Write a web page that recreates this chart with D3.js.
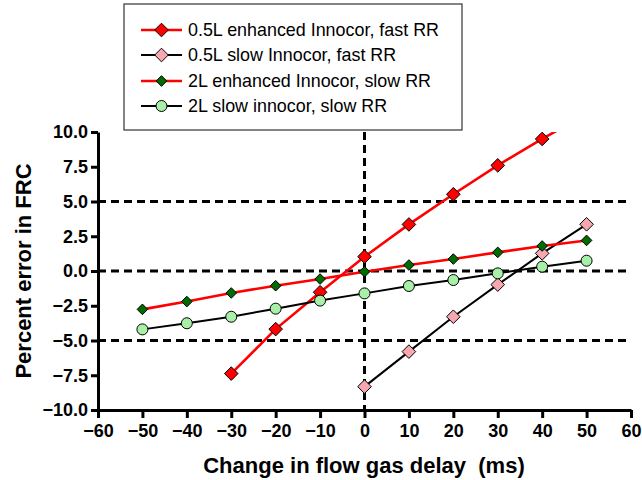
<!DOCTYPE html>
<html><head><meta charset="utf-8">
<script src="https://cdn.jsdelivr.net/npm/d3@7/dist/d3.min.js"></script>
<style>body{margin:0;background:#fff}svg{display:block}text{font-family:"Liberation Sans",Arial,sans-serif}</style>
</head><body><svg id="c" width="642" height="480"></svg>
<script>
const xValues = [-50,-40,-30,-20,-10,0,10,20,30,40,50];
const s1X = [-30,-20,-10,0,10,20,30,40,50];
const s1Y = [-7.38,-4.18,-1.53,1.03,3.35,5.52,7.6,9.5,11.3];
const s2X = [0,10,20,30,40,50];
const s2Y = [-8.32,-5.8,-3.29,-0.98,1.27,3.36];
const s3Y = [-2.76,-2.2,-1.58,-1.06,-0.58,-0.05,0.43,0.86,1.34,1.8,2.2];
const s4Y = [-4.2,-3.76,-3.29,-2.71,-2.13,-1.61,-1.08,-0.65,-0.17,0.31,0.74];
const seriesNames = ["0.5L enhanced Innocor, fast RR","0.5L slow Innocor, fast RR","2L enhanced Innocor, slow RR","2L slow innocor, slow RR"];
const xTicks = [-60,-50,-40,-30,-20,-10,0,10,20,30,40,50,60];
const yTicks = [-10,-7.5,-5,-2.5,0,2.5,5,7.5,10];
const refY = [-5,0,5];
const refX = [0];

const series = [
  {name:seriesNames[0], x:s1X, y:s1Y, line:"#ff0000", lw:2.6, shape:"diamond", fill:"#ff0000", size:6.8},
  {name:seriesNames[1], x:s2X, y:s2Y, line:"#000000", lw:2, shape:"diamond", fill:"#f7a7b0", size:6.8},
  {name:seriesNames[2], x:xValues, y:s3Y, line:"#ff0000", lw:2.6, shape:"diamond", fill:"#006b00", size:5.3},
  {name:seriesNames[3], x:xValues, y:s4Y, line:"#000000", lw:2, shape:"circle", fill:"#a8f0a8", size:5.5}
];

const svg = d3.select("#c");
const L=98, R=631, T=132, B=410;
const x = d3.scaleLinear().domain([-60,60]).range([L,R]);
const y = d3.scaleLinear().domain([-10,10]).range([B,T]);

svg.append("defs").append("clipPath").attr("id","clip").append("rect")
  .attr("x",L).attr("y",T).attr("width",R-L).attr("height",B-T);

const g0 = svg.append("g");
refY.forEach(v=>g0.append("line").attr("x1",L).attr("x2",R).attr("y1",y(v)).attr("y2",y(v))
  .attr("stroke","#000").attr("stroke-width",3).attr("stroke-dasharray","8,5"));
refX.forEach(v=>g0.append("line").attr("x1",x(v)).attr("x2",x(v)).attr("y1",T).attr("y2",B)
  .attr("stroke","#000").attr("stroke-width",3).attr("stroke-dasharray","8,5"));

function marker(sel, s, cx, cy){
  if(s.shape==="diamond"){
    const r=s.size;
    sel.append("path").attr("d",`M${cx},${cy-r}L${cx+r},${cy}L${cx},${cy+r}L${cx-r},${cy}Z`)
      .attr("fill",s.fill).attr("stroke","#000").attr("stroke-width",1);
  } else {
    sel.append("circle").attr("cx",cx).attr("cy",cy).attr("r",s.size)
      .attr("fill",s.fill).attr("stroke","#000").attr("stroke-width",1);
  }
}

const plot = svg.append("g").attr("clip-path","url(#clip)");
series.forEach(s=>{
  const pts = s.x.map((xv,i)=>[xv,s.y[i]]);
  plot.append("path").datum(pts)
    .attr("d",d3.line().x(d=>x(d[0])).y(d=>y(d[1])))
    .attr("fill","none").attr("stroke",s.line).attr("stroke-width",s.lw);
  pts.forEach(p=>{ if(p[1]<=10.2) marker(plot, s, x(p[0]), y(p[1])); });
});

const xa = svg.append("g").attr("transform",`translate(0,${B})`)
  .call(d3.axisBottom(x).tickValues(xTicks).tickSize(8).tickSizeOuter(0).tickPadding(6).tickFormat(d3.format("d")));
const ya = svg.append("g").attr("transform",`translate(${L},0)`)
  .call(d3.axisLeft(y).tickValues(yTicks).tickSize(7).tickSizeOuter(0).tickPadding(3).tickFormat(d3.format(".1f")));
[xa,ya].forEach(a=>{
  a.select(".domain").attr("stroke","#000").attr("stroke-width",3);
  a.selectAll(".tick line").attr("stroke","#000").attr("stroke-width",3);
  a.selectAll(".tick text").attr("fill","#000").style("font-size","18px").style("font-weight","bold")
    .style("font-family","'Liberation Sans',Arial,sans-serif");
});

svg.append("text").attr("x",364).attr("y",473).attr("text-anchor","middle")
  .style("font-size","22px").style("font-weight","bold").style("white-space","pre")
  .text("Change in flow gas delay  (ms)");
svg.append("text").attr("transform","translate(31,271) rotate(-90)").attr("text-anchor","middle")
  .style("font-size","22px").style("font-weight","bold")
  .text("Percent error in FRC");

const lg = svg.append("g");
lg.append("rect").attr("x",124).attr("y",4).attr("width",338).attr("height",126)
  .attr("fill","#fff").attr("stroke","#333").attr("stroke-width",1.2);
const rowsY=[30,55,81,106];
series.forEach((s,i)=>{
  const cy=rowsY[i];
  lg.append("line").attr("x1",141).attr("x2",182).attr("y1",cy).attr("y2",cy)
    .attr("stroke",s.line).attr("stroke-width",s.lw);
  marker(lg, s, 161.5, cy);
  lg.append("text").attr("x",188).attr("y",cy+6).style("font-size","17.9px").attr("fill","#000").text(s.name);
});
</script></body></html>
